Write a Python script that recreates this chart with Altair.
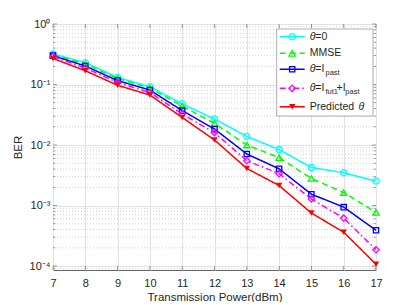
import altair as alt
import pandas as pd

# ---------------- data ----------------
x_vals = [7, 8, 9, 10, 11, 12, 13, 14, 15, 16, 17]
series_names = ["θ=0", "MMSE", "θ=I_past", "θ=I_fut1+I_past", "Predicted θ"]
ber_theta0 = [0.32, 0.23, 0.131, 0.092, 0.048, 0.0269, 0.0139, 0.0084, 0.00425, 0.00349, 0.00254]
ber_mmse = [0.31, 0.218, 0.126, 0.0875, 0.044, 0.0228, 0.0100, 0.0062, 0.0028, 0.00164, 0.00077]
ber_ipast = [0.30, 0.202, 0.116, 0.081, 0.037, 0.0184, 0.0071, 0.00404, 0.00154, 0.00094, 0.00039]
ber_ifut = [0.29, 0.187, 0.108, 0.0738, 0.0325, 0.016, 0.0055, 0.00336, 0.00128, 0.00062, 0.000186]
ber_pred = [0.27, 0.169, 0.097, 0.067, 0.0285, 0.0121, 0.0041, 0.00214, 0.00075, 0.000362, 0.000107]
y_major = [1e-4, 1e-3, 1e-2, 1e-1, 1]
y_minor = [k * 10.0 ** e for e in range(-5, 0) for k in range(2, 10) if 8.6e-5 <= k * 10.0 ** e < 1]

all_series = [ber_theta0, ber_mmse, ber_ipast, ber_ifut, ber_pred]

# ---------------- styles ----------------
W, H = 323, 246
colors = ["#00ffff", "#00ff00", "#0000ff", "#ff00ff", "#ff0000"]
dashes = [[1, 0], [6, 4], [1, 0], [6, 3, 1.5, 3], [1, 0]]
shapes = ["circle", "triangle-up", "square", "diamond", "triangle-down"]
sizes = [38, 40, 28, 40, 40]
filled = [False, False, False, False, True]
FONT = "Liberation Sans"
TXT = "#262626"

xscale = alt.Scale(domain=[7, 17], nice=False, zero=False)
yscale = alt.Scale(type="log", domain=[8.6e-5, 1], nice=False)

label_expr = ("datum.value > 0.5 ? '10⁰' : datum.value > 0.05 ? '10⁻¹' : "
              "datum.value > 0.005 ? '10⁻²' : datum.value > 0.0005 ? '10⁻³' : '10⁻⁴'")

x_axis = alt.Axis(values=x_vals, grid=True, gridColor="#e2e2e2", gridWidth=1,
                  tickSize=0, domain=False, labelPadding=7, labelFontSize=11, labelFlush=False,
                  title="Transmission Power(dBm)", titleFontSize=11.5, titlePadding=3)
y_axis = alt.Axis(values=y_major, grid=True, gridColor="#e2e2e2", gridWidth=1,
                  tickSize=0, domain=False, labelPadding=3, labelFontSize=11, labelFlush=False,
                  labelExpr=label_expr, title="BER", titleFontSize=11.5, titlePadding=6)


def X(field):
    return alt.X(field, scale=xscale, axis=x_axis)


def Y(field):
    return alt.Y(field, scale=yscale, axis=y_axis)


layers = []

# minor dotted grid
minor_df = pd.DataFrame({"v": y_minor})
layers.append(
    alt.Chart(minor_df).mark_rule(color="#c4c4c4", strokeDash=[1, 2], strokeWidth=0.8).encode(
        y=Y("v:Q")
    )
)

# inward ticks
xt_df = pd.DataFrame({"v": x_vals})
major_df = pd.DataFrame({"v": y_major})
tick_col = "#555555"
layers.append(alt.Chart(xt_df).mark_tick(color=tick_col, size=4, thickness=0.8).encode(
    x=X("v:Q"), y=alt.value(H - 2)))
layers.append(alt.Chart(xt_df).mark_tick(color=tick_col, size=4, thickness=0.8).encode(
    x=X("v:Q"), y=alt.value(2)))
for xpos in (2, W - 2):
    layers.append(alt.Chart(major_df).mark_tick(color=tick_col, size=4, thickness=0.8).encode(
        y=Y("v:Q"), x=alt.value(xpos)))
for xpos in (1.2, W - 1.2):
    layers.append(alt.Chart(minor_df).mark_tick(color=tick_col, size=2.4, thickness=0.7).encode(
        y=Y("v:Q"), x=alt.value(xpos)))

# series
for name, vals, c, d, s, sz, f in zip(series_names, all_series, colors, dashes, shapes, sizes, filled):
    df = pd.DataFrame({"x": x_vals, "ber": vals, "series": name})
    layers.append(alt.Chart(df).mark_line(color=c, strokeDash=d, strokeWidth=1.5).encode(
        x=X("x:Q"), y=Y("ber:Q")))
    layers.append(alt.Chart(df).mark_point(color=c, shape=s, size=sz, filled=f,
                                           strokeWidth=1.3, opacity=1).encode(
        x=X("x:Q"), y=Y("ber:Q")))

# legend box
one = pd.DataFrame({"a": [0]})
layers.append(alt.Chart(one).mark_rect(fill="white", stroke="#9a9a9a", strokeWidth=0.8).encode(
    x=alt.value(223.7), x2=alt.value(320), y=alt.value(5), y2=alt.value(92)))

row_y = [12.7, 29.3, 45.3, 64.3, 82.7]
line_x0, line_x1, mark_x = 226.7, 251.7, 239.2
text_pieces = [
    [("θ", 256.7, 0, 10.5, "italic"), ("=0", 262.3, 0, 10.5, "normal")],
    [("MMSE", 256.7, 0, 10.5, "normal")],
    [("θ", 256.7, 0, 10.5, "italic"), ("=I", 262.3, 0, 10.5, "normal"), ("past", 272.5, 3.5, 7.5, "normal")],
    [("θ", 256.7, 0, 10.5, "italic"), ("=I", 262.3, 0, 10.5, "normal"), ("fut1", 272.5, 3.5, 7.5, "normal"),
     ("+I", 283.6, 0, 10.5, "normal"), ("past", 292.3, 3.5, 7.5, "normal")],
    [("Predicted", 256.7, 0, 10.5, "normal"), ("θ", 305.5, 0, 10.5, "italic")],
]
for i in range(len(series_names)):
    yy = row_y[i]
    layers.append(alt.Chart(one).mark_rule(color=colors[i], strokeDash=dashes[i], strokeWidth=1.5).encode(
        x=alt.value(line_x0), x2=alt.value(line_x1), y=alt.value(yy)))
    layers.append(alt.Chart(one).mark_point(color=colors[i], shape=shapes[i], size=sizes[i],
                                            filled=filled[i], strokeWidth=1.3, opacity=1).encode(
        x=alt.value(mark_x), y=alt.value(yy)))
    for (t, tx, dy, fs, st) in text_pieces[i]:
        layers.append(alt.Chart(one).mark_text(text=t, align="left", baseline="middle", font=FONT,
                                               fontSize=fs, fontStyle=st, color=TXT, dy=dy).encode(
            x=alt.value(tx), y=alt.value(yy)))

chart = alt.layer(*layers).properties(
    width=W, height=H,
    autosize=alt.AutoSizeParams(type="none"),
    padding={"left": 45, "top": 16, "right": 30, "bottom": 32},
).configure_view(stroke="#666666", strokeWidth=1).configure_axis(
    labelFont=FONT, titleFont=FONT, labelColor=TXT, titleColor=TXT, titleFontWeight="normal"
)

chart.save("out.html", embed_options={"renderer": "svg", "actions": False})
